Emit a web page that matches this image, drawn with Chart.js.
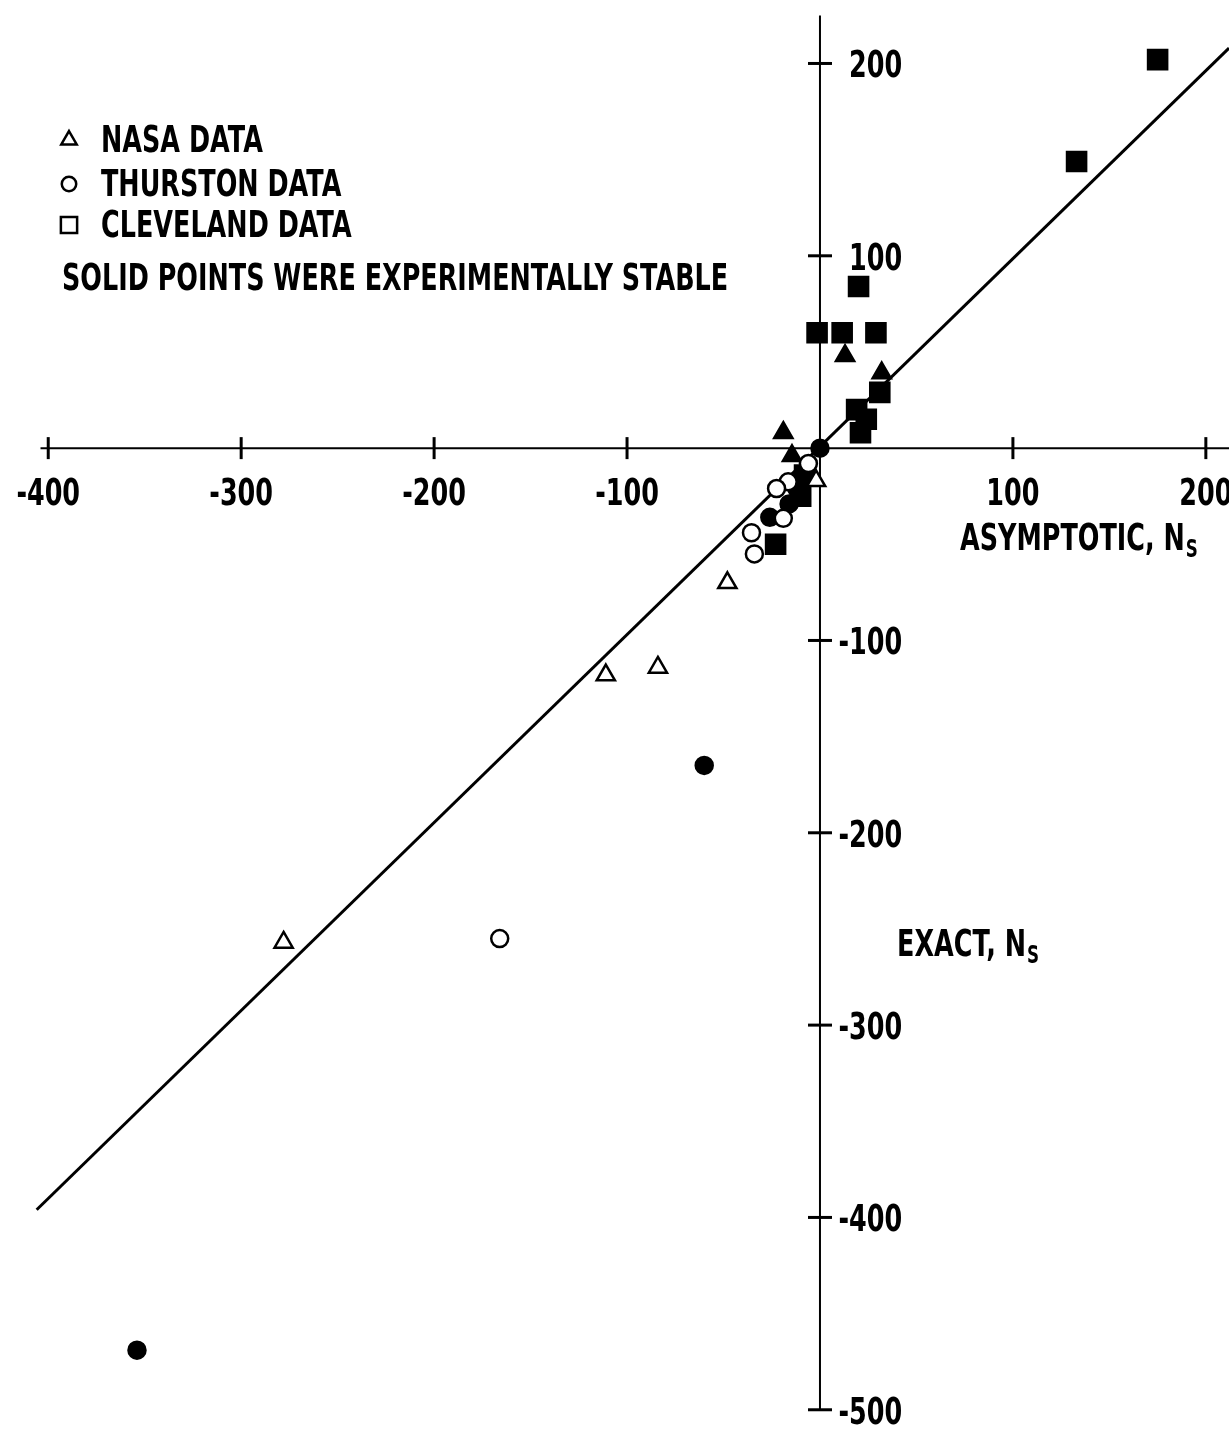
<!DOCTYPE html>
<html>
<head>
<meta charset="utf-8">
<title>Exact vs asymptotic Ns</title>
<script src="https://cdn.jsdelivr.net/npm/chart.js@4/dist/chart.umd.min.js"></script>
<style>
  html, body { margin: 0; padding: 0; background: #fff; }
  canvas { display: block; }
</style>
</head>
<body>
<canvas id="nsChart" width="1229" height="1429"></canvas>
<script>
// asymptotic Ns (x) against exact Ns (y)
const nasaOpenX = [-278, -111, -84, -48, -2];
const nasaOpenY = [-257, -118, -114, -70, -17];
const nasaSolidX = [13, 32, -19, -14.5];
const nasaSolidY = [48, 39, 8, -4];

const thurstonOpenX = [-166, -6, -16.5, -22.5, -19, -35.5, -34];
const thurstonOpenY = [-255, -8, -17.5, -21, -36.5, -44, -55];
const thurstonSolidX = [-60, -354, 0, -26, -12, -16];
const thurstonSolidY = [-165, -469, 0, -36, -21, -29];

const clevelandSolidX = [175, 133, 20, -1.5, 11.5, 29, 31, 19, 24, 21, -8, -10, -23];
const clevelandSolidY = [202, 149, 84, 60, 60, 60, 29, 20, 15, 8, -14, -25, -50];

// exact = asymptotic reference line
const lineX = [-406, 212];
const lineY = [-396, 208];

const xTickValues = [-400, -300, -200, -100, 100, 200];
const yTickValues = [200, 100, -100, -200, -300, -400, -500];

const legendNames = ['NASA DATA', 'THURSTON DATA', 'CLEVELAND DATA'];
const legendNote = 'SOLID POINTS WERE EXPERIMENTALLY STABLE';

const toPoints = (xs, ys) => xs.map((x, i) => ({x: x, y: ys[i]}));

const SQUASH = 0.67;
const FONT = 'bold 38px "DejaVu Sans", sans-serif';
const SUB_FONT = 'bold 25px "DejaVu Sans", sans-serif';

function drawText(ctx, str, x, y, font, align) {
	ctx.save();
	ctx.font = font || FONT;
	const w = ctx.measureText(str).width * SQUASH;
	let left = x;
	if (align === 'center') left = x - w / 2;
	if (align === 'right') left = x - w;
	ctx.translate(left, y);
	ctx.scale(SQUASH, 1);
	ctx.textAlign = 'left';
	ctx.textBaseline = 'alphabetic';
	ctx.fillStyle = '#000';
	ctx.fillText(str, 0, 0);
	ctx.restore();
	return w;
}

// "TEXT, Ns" with the s dropped as a subscript
function drawTitle(ctx, str, x, y) {
	let w = drawText(ctx, str + ' ', x, y);
	w += drawText(ctx, 'N', x + w, y);
	drawText(ctx, 'S', x + w + 1, y + 7, SUB_FONT);
}

const markStyles = {
	triangle: {pointStyle: 'triangle', radius: 10.5},
	circle: {pointStyle: 'circle', radius: 8.5},
	rect: {pointStyle: 'rect', radius: 13.5}
};

function scatterSet(label, xs, ys, shape, solid) {
	return {
		label: label,
		data: toPoints(xs, ys),
		pointStyle: markStyles[shape].pointStyle,
		pointRadius: markStyles[shape].radius,
		pointBorderWidth: 2.5,
		pointBorderColor: '#000',
		pointBackgroundColor: solid ? '#000' : '#fff',
		showLine: false,
		clip: false
	};
}

// axes crossing at the origin, cross-shaped ticks, legend and titles
const paperAxes = {
	id: 'paperAxes',
	beforeDatasetsDraw(chart) {
		const ctx = chart.ctx;
		const xs = chart.scales.x;
		const ys = chart.scales.y;
		const x0 = xs.getPixelForValue(0);
		const y0 = ys.getPixelForValue(0);

		ctx.save();
		ctx.strokeStyle = '#000';
		ctx.lineCap = 'butt';

		// x axis
		ctx.lineWidth = 2;
		ctx.beginPath();
		ctx.moveTo(xs.getPixelForValue(-404), y0);
		ctx.lineTo(chart.width, y0);
		ctx.stroke();

		// y axis
		ctx.beginPath();
		ctx.moveTo(x0, ys.getPixelForValue(225));
		ctx.lineTo(x0, ys.getPixelForValue(-500));
		ctx.stroke();

		ctx.lineWidth = 3;
		xTickValues.forEach(v => {
			const px = xs.getPixelForValue(v);
			ctx.beginPath();
			ctx.moveTo(px, y0 - 11);
			ctx.lineTo(px, y0 + 11);
			ctx.stroke();
			drawText(ctx, String(v), px, y0 + 57, FONT, 'center');
		});

		ctx.font = FONT;
		const minusW = ctx.measureText('-').width * SQUASH;
		yTickValues.forEach(v => {
			const py = ys.getPixelForValue(v);
			ctx.beginPath();
			ctx.moveTo(x0 - 12, py);
			ctx.lineTo(x0 + 12, py);
			ctx.stroke();
			const left = x0 + 29 - (v < 0 ? minusW : 0);
			drawText(ctx, String(v), left, py + 14);
		});
		ctx.restore();

		drawTitle(ctx, 'ASYMPTOTIC,', 960, 550);
		drawTitle(ctx, 'EXACT,', 897, 956);

		// legend
		const shapes = ['triangle', 'circle', 'rect'];
		const rows = [152, 196, 237];
		ctx.save();
		ctx.strokeStyle = '#000';
		ctx.fillStyle = '#fff';
		ctx.lineWidth = 2.5;
		shapes.forEach((s, i) => {
			const st = markStyles[s];
			Chart.helpers.drawPoint(ctx, {
				pointStyle: st.pointStyle,
				radius: st.radius * 0.85,
				rotation: 0,
				borderWidth: 2.5
			}, 69, rows[i] - 12);
		});
		ctx.restore();
		legendNames.forEach((name, i) => {
			drawText(ctx, name, 101, rows[i]);
		});
		drawText(ctx, legendNote, 62, 290);
	}
};

const chart = new Chart(document.getElementById('nsChart'), {
	type: 'scatter',
	data: {
		datasets: [
			scatterSet('NASA', nasaOpenX, nasaOpenY, 'triangle', false),
			scatterSet('Thurston', thurstonOpenX, thurstonOpenY, 'circle', false),
			scatterSet('NASA stable', nasaSolidX, nasaSolidY, 'triangle', true),
			scatterSet('Thurston stable', thurstonSolidX, thurstonSolidY, 'circle', true),
			scatterSet('Cleveland stable', clevelandSolidX, clevelandSolidY, 'rect', true),
			{
				label: 'exact = asymptotic',
				data: toPoints(lineX, lineY),
				showLine: true,
				borderColor: '#000',
				borderWidth: 3,
				pointRadius: 0,
				clip: false
			}
		]
	},
	options: {
		responsive: false,
		animation: false,
		events: [],
		layout: {padding: 0, autoPadding: false},
		plugins: {
			legend: {display: false},
			tooltip: {enabled: false}
		},
		scales: {
			x: {type: 'linear', min: -425, max: 212, display: false},
			y: {type: 'linear', min: -510, max: 233, display: false}
		}
	},
	plugins: [paperAxes]
});
</script>
</body>
</html>
